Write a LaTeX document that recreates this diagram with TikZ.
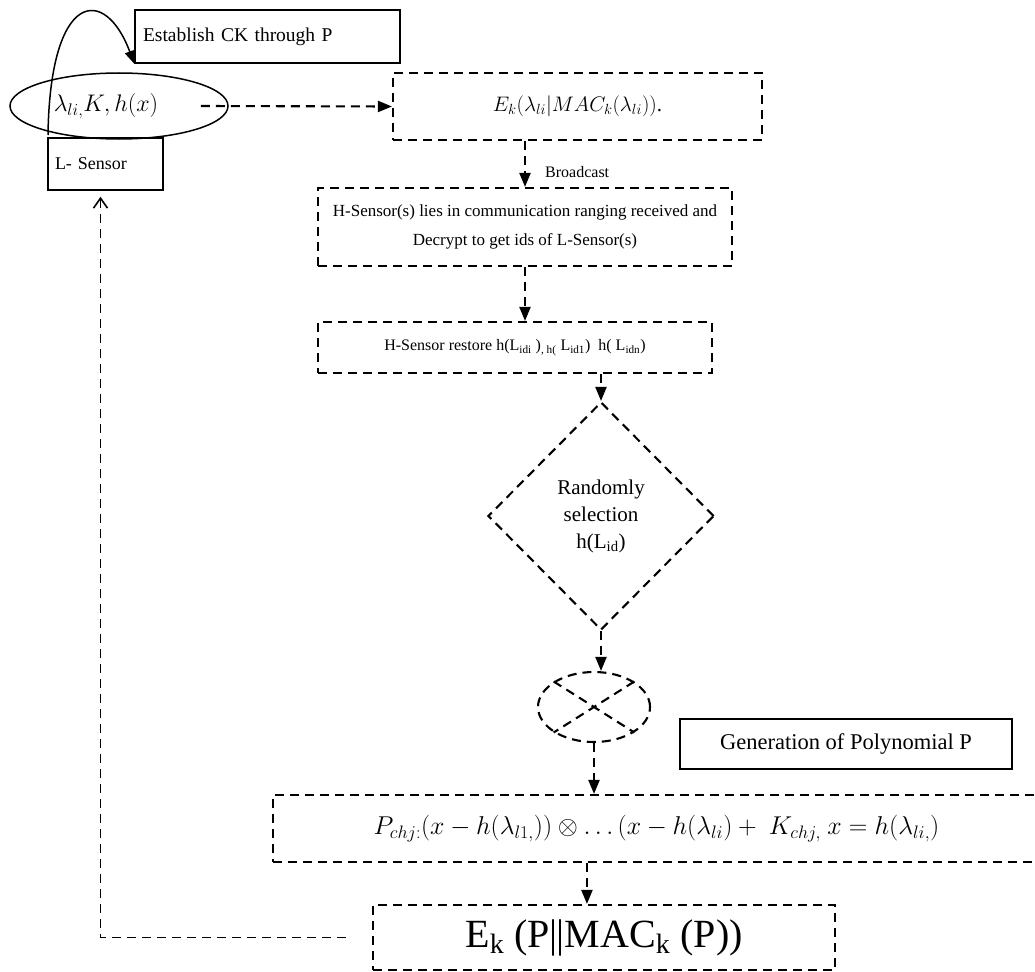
\RequirePackage{fix-cm}
\documentclass[tikz,border=0pt]{standalone}
\usepackage{fontspec}
\setmainfont{Liberation Serif}
\usetikzlibrary{shapes.geometric,arrows.meta,calc}
\begin{document}
\begin{tikzpicture}[x=1pt,y=-1pt,
  dpat/.style={line width=2.1pt, dash pattern=on 9pt off 6pt},
  dbox/.style={draw, dpat, rectangle, inner sep=0pt, align=center},
  sbox/.style={draw, line width=1.5pt, rectangle, inner sep=0pt},
  darr/.style={draw, dpat, -{Triangle[length=14pt,width=11pt]}},
  fbarr/.style={draw, line width=1.8pt, dash pattern=on 9pt off 6pt, -{Straight Barb[length=10pt,width=14pt,line width=1.6pt]}},
]
\useasboundingbox (0,0) rectangle (1035,971);
% nodes
\node[sbox, minimum height=53pt, text width=249pt, inner xsep=8pt, align=left,
      font=\fontsize{19.5}{22}\selectfont] (est) at (267.5,36.5) {Establish CK through P};
\node[draw, ellipse, line width=1.5pt, inner sep=0pt, minimum width=218pt, minimum height=66pt] (ell) at (119,106) {};
\node[inner sep=0pt, font=\fontsize{24}{28}\selectfont] (ellt) at (106,106) {$\lambda_{li,}K, h(x)$};
\node[sbox, minimum height=52pt, text width=101pt, inner xsep=7pt, align=left,
      font=\fontsize{18}{22}\selectfont] (lsen) at (105.5,164) {L- Sensor};
\node[dbox, minimum width=369pt, minimum height=67pt,
      font=\fontsize{21}{24}\selectfont] (e1) at (577.5,106.5) {$E_k(\lambda_{li}|MAC_k(\lambda_{li}))$.};
\node[dbox, minimum width=414pt, minimum height=78pt,
      font=\fontsize{17}{29}\selectfont] (b2) at (525,227)
      {H-Sensor(s) lies in communication ranging received and\\Decrypt to get ids of L-Sensor(s)};
\node[dbox, minimum width=394pt, minimum height=51pt,
      font=\fontsize{16}{20}\selectfont] (b3) at (515,347.5)
      {H-Sensor restore h(L\textsubscript{idi} )\textsubscript{, h(} L\textsubscript{id1})\ \ h( L\textsubscript{idn})};
\node[draw, dpat, diamond, aspect=1, inner sep=0pt, minimum width=226pt, minimum height=228pt,
      align=center, font=\fontsize{21}{27}\selectfont] (dia) at (601,516)
      {Randomly\\selection\\h(L\textsubscript{id})};
\node[draw, dpat, ellipse, inner sep=0pt, minimum width=112pt, minimum height=70pt] (circ) at (594,707) {};
\node[sbox, minimum width=332pt, minimum height=50pt,
      font=\fontsize{22.5}{26}\selectfont] (gen) at (846,744) {Generation of Polynomial P};
\node[dbox, minimum width=767pt, minimum height=67pt,
      font=\fontsize{25.8}{30}\selectfont] (b5) at (656.5,828.5)
      {$P_{chj:}(x-h(\lambda_{l1,}))\otimes \dots(x-h(\lambda_{li}) +\ K_{chj,}\ x = h(\lambda_{li,})$};
\node[dbox, minimum width=462pt, minimum height=65pt,
      font=\fontsize{40}{44}\selectfont] (eb) at (604,937.5)
      {E\textsubscript{k} (P|\kern-1pt|MAC\textsubscript{k} (P))};
\node[anchor=west, inner sep=0pt, font=\fontsize{16}{19}\selectfont] (bc) at (545,172) {Broadcast};
\coordinate (cs) at (48,135);
% cross inside circle
\draw[dpat] (circ.north west) -- (circ.south east);
\draw[dpat] (circ.north east) -- (circ.south west);
% connectors
\draw[line width=1.5pt, -{Triangle[length=13pt,width=10pt]}] (cs) .. controls (50,-10) and (105,-15) .. (est.south west);
\draw[darr] ($(ell.east)+(-28,0)$) -- (e1.west);
\draw[darr] (b2.north |- e1.south) -- (b2.north);
\draw[darr] (b2.south) -- (b2.south |- b3.north);
\draw[darr] (dia.north |- b3.south) -- (dia.north);
\draw[darr] (dia.south) -- (dia.south |- circ.north);
\draw[darr] (circ.south) -- (circ.south |- b5.north);
\draw[darr] ($(b5.south west)+(315,0)$) -- ($(eb.north west)+(215,0)$);
\draw[fbarr, shorten <=26pt] (eb.west) -| ($(lsen.south)+(-5,6)$);
\end{tikzpicture}
\end{document}
